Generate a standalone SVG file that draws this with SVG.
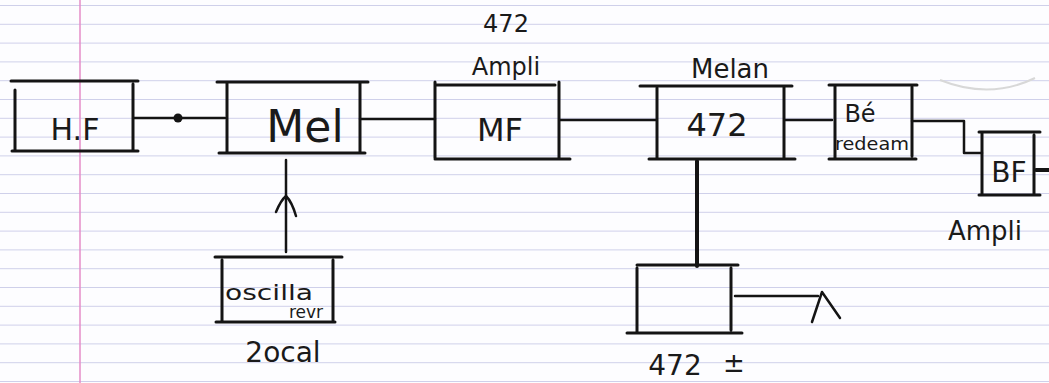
<svg xmlns="http://www.w3.org/2000/svg" width="1049" height="383" viewBox="0 0 1049 383">
<defs>
<pattern id="ruled" x="0" y="5" width="1049" height="18.8" patternUnits="userSpaceOnUse">
<line x1="0" y1="0.5" x2="1049" y2="0.5" stroke="#cfd0ea" stroke-width="1"/>
</pattern>
</defs>
<style>
.b{fill:none;stroke:#141414;stroke-width:3;stroke-linecap:round}
.s{fill:none;stroke:#141414;stroke-width:4;stroke-linecap:round}
.c{fill:none;stroke:#141414;stroke-width:2.5;stroke-linecap:round;stroke-linejoin:round}
.t{font-family:"DejaVu Sans","Liberation Sans",sans-serif;fill:#1a1a1a;text-anchor:middle}
</style>
<rect width="1049" height="383" fill="#fdfdff"/>
<rect width="1049" height="383" fill="url(#ruled)"/>
<line x1="80" y1="0" x2="80" y2="383" stroke="#e48cc8" stroke-width="1.5"/>
<path d="M940,80 Q990,100 1035,78" fill="none" stroke="#d8d8d8" stroke-width="2"/>

<g id="connectors">
<path class="c" d="M134,118 H225"/>
<circle cx="178" cy="118" r="4.5" fill="#141414"/>
<path class="c" d="M360,119 H435"/>
<path class="c" d="M560,120 H656"/>
<path class="c" d="M785,120 H832"/>
<path class="c" d="M912,121 H964 V153 H982"/>
<path class="s" d="M1036,170 H1049"/>
<path class="c" d="M286,252 V160"/>
<path class="c" d="M276,212 Q281,200 286,196 Q292,202 296,216"/>
<path class="s" d="M697,161 V266"/>
<path class="c" d="M735,296 H818"/>
<path class="c" d="M812,322 L822,292 L840,318"/>
</g>

<g id="hf">
<path class="b" d="M11,81 H138 M12,151 H138 M15,90 V150 M133,84 V150"/>
<text class="t" x="75" y="140" font-size="30">H.F</text>
</g>

<g id="mel">
<path class="b" d="M217,82 H368 M219,153 H365 M227,82 V152 M360,82 V152"/>
<text class="t" x="305" y="142" font-size="44">Mel</text>
</g>

<g id="mf">
<path class="b" d="M435,85 H555 M435,159 H570 M435,82 V158 M559,82 V158"/>
<text class="t" x="500" y="141" font-size="32">MF</text>
<text class="t" x="506" y="32" font-size="24">472</text>
<text class="t" x="506" y="75" font-size="24">Ampli</text>
</g>

<g id="m472">
<path class="b" d="M640,86 H792 M649,159 H795 M657,88 V158 M784,86 V158"/>
<text class="t" x="717" y="136" font-size="32">472</text>
<text class="t" x="730" y="78" font-size="26">Melan</text>
</g>

<g id="bered">
<path class="b" d="M829,85 H917 M829,159 H916 M835,85 V158 M912,87 V156"/>
<text class="t" x="860" y="122" font-size="24">Bé</text>
<text class="t" x="872" y="150" font-size="18" textLength="74" lengthAdjust="spacingAndGlyphs">redeam</text>
</g>

<g id="bf">
<path class="b" d="M979,132 H1040 M979,195 H1040 M982,133 V195 M1034,135 V194"/>
<text class="t" x="1009" y="182" font-size="28">BF</text>
<text class="t" x="985" y="240" font-size="26">Ampli</text>
</g>

<g id="osc">
<path class="b" d="M215,257 H342 M216,322 H335 M222,260 V321 M333,260 V320"/>
<text class="t" x="269" y="300" font-size="22" textLength="88" lengthAdjust="spacingAndGlyphs">oscilla</text>
<text class="t" x="306" y="318" font-size="17">revr</text>
<text class="t" x="283" y="362" font-size="28">2ocal</text>
</g>

<g id="b472">
<path class="b" d="M637,265 H738 M627,333 H742 M637,268 V332 M731,268 V330"/>
<text class="t" x="675" y="375" font-size="28">472</text>
<text class="t" x="734" y="372" font-size="26">±</text>
</g>
</svg>
